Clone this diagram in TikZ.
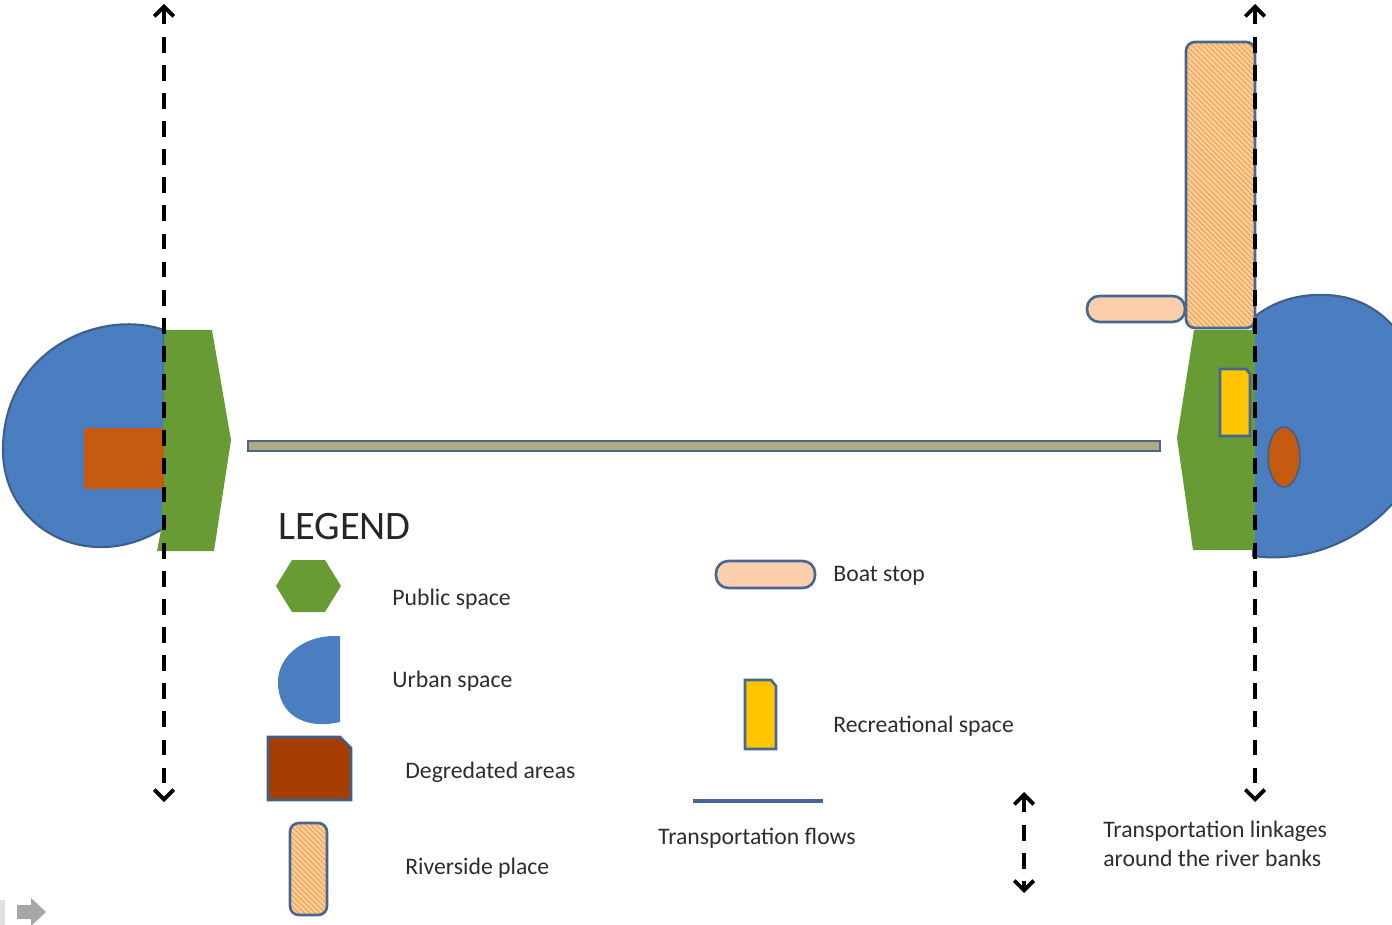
\documentclass[tikz,border=0pt]{standalone}
\usepackage{fontspec}
\setmainfont{Carlito}
\usetikzlibrary{arrows.meta,patterns}
\definecolor{urbanblue}{RGB}{74,126,193}
\definecolor{urbanrim}{RGB}{60,95,140}
\definecolor{publicgreen}{RGB}{104,155,52}
\definecolor{degraded}{RGB}{197,90,17}
\definecolor{degradeddark}{RGB}{166,62,2}
\definecolor{rimblue}{RGB}{72,102,148}
\definecolor{riverfill}{RGB}{252,205,150}
\definecolor{riverhatch}{RGB}{236,150,62}
\definecolor{boatfill}{RGB}{251,207,172}
\definecolor{recyellow}{RGB}{255,198,0}
\definecolor{flowtan}{RGB}{176,172,130}
\definecolor{textgray}{RGB}{45,45,45}

\begin{document}
\begin{tikzpicture}[x=0.02cm,y=-0.02cm,
    link/.style={line width=2.2pt,dash pattern=on 9pt off 7pt,
        {Straight Barb[length=5.5pt,width=11pt]}-{Straight Barb[length=5.5pt,width=11pt]}},
    rim/.style={draw=rimblue,line width=1.5pt},
    riverside/.style={rim,rounded corners=5pt,pattern=north west lines,
        pattern color=riverhatch,preaction={fill=riverfill}},
    boatstop/.style={rim,fill=boatfill,rounded corners=7pt},
    recreation/.style={rim,fill=recyellow},
    label/.style={anchor=west,inner sep=0pt,text=textgray,
        font=\fontsize{13.5}{16.5}\selectfont}]
    \useasboundingbox (0,0) rectangle (1392,925);
    \clip (0,0) rectangle (1392,925);

    % left river bank
    \filldraw[fill=urbanblue,draw=urbanrim,line width=1.2pt] (164,330) .. controls (100,308) and (3,350) .. (3,450)
        .. controls (3,530) and (90,575) .. (164,528) -- cycle;
    \fill[publicgreen] (164,330) -- (212,330) -- (231,440) -- (214,551) -- (157,551) -- (162,525) -- cycle;
    \fill[degraded] (84,428) rectangle (164,489);

    % river crossing
    \filldraw[fill=flowtan,draw=rimblue,line width=1.6pt] (248,441) rectangle (1160,451);

    % right river bank
    \filldraw[fill=urbanblue,draw=urbanrim,line width=1.2pt] (1253,318) .. controls (1275,300) and (1300,294) .. (1325,295)
        .. controls (1380,296) and (1420,340) .. (1428,415)
        .. controls (1428,500) and (1340,568) .. (1253,556) -- cycle;
    \fill[publicgreen] (1194,330) -- (1255,330) -- (1255,550) -- (1193,550) -- (1177,438) -- cycle;
    \filldraw[riverside] (1186,42) rectangle (1255,328);
    \filldraw[boatstop] (1087,296) rectangle (1185,322);
    \filldraw[recreation] (1220,369) -- (1246,369) -- (1250,374) -- (1250,436) -- (1220,436) -- cycle;
    \filldraw[fill=degraded,draw=urbanrim,line width=0.8pt] (1284,457) ellipse [x radius=0.32cm,y radius=0.6cm];

    % linkages
    \coordinate (wtop) at (164,4);
    \coordinate (wbot) at (164,802);
    \coordinate (etop) at (1255,4);
    \coordinate (ebot) at (1255,802);
    \draw[link] (wtop) -- (wbot);
    \draw[link] (etop) -- (ebot);

    % legend
    \node[anchor=west,inner sep=0pt,text=black!85,font=\fontsize{23}{27}\selectfont] (legend) at (278,527) {LEGEND};

    \fill[publicgreen] (276,586) -- (292,560) -- (325,560) -- (341,586) -- (325,612) -- (292,612) -- cycle;
    \node[label] (public) at (392,599) {Public space};

    \fill[urbanblue] (340,636) -- (340,722) .. controls (305,730) and (278,715) .. (278,682)
        .. controls (278,655) and (305,636) .. (334,636) -- cycle;
    \node[label] (urban) at (392,681) {Urban space};

    \filldraw[fill=degradeddark,draw=urbanrim,line width=1.5pt] (268,737) -- (340,737) -- (351,748) -- (351,800) -- (268,800) -- cycle;
    \node[label] (degr) at (405,772) {Degredated areas};

    \filldraw[riverside] (290,823) rectangle (327,915);
    \node[label] (river) at (405,868) {Riverside place};

    \filldraw[boatstop] (716,561) rectangle (815,588);
    \node[label] (boat) at (833,576) {Boat stop};

    \filldraw[recreation] (745,680) -- (771,680) -- (776,686) -- (776,749) -- (745,749) -- cycle;
    \node[label] (recr) at (833,726) {Recreational space};

    \coordinate (fleft) at (693,801);
    \coordinate (fright) at (823,801);
    \draw[rimblue,line width=2.8pt] (fleft) -- (fright);
    \node[label,anchor=center] (flows) at (757,838) {Transportation flows};

    \coordinate (ltop) at (1024,792);
    \coordinate (lbot) at (1024,893);
    \draw[link] (ltop) -- (lbot);
    \node[label,align=left] (linkages) at (1103,844) {Transportation linkages\\around the river banks};

    % slide controls
    \fill[black!12] (0,900) rectangle (5,925);
    \fill[black!35] (17,905) -- (31,905) -- (31,898) -- (46,912) -- (31,926) -- (31,919) -- (17,919) -- cycle;
\end{tikzpicture}
\end{document}
